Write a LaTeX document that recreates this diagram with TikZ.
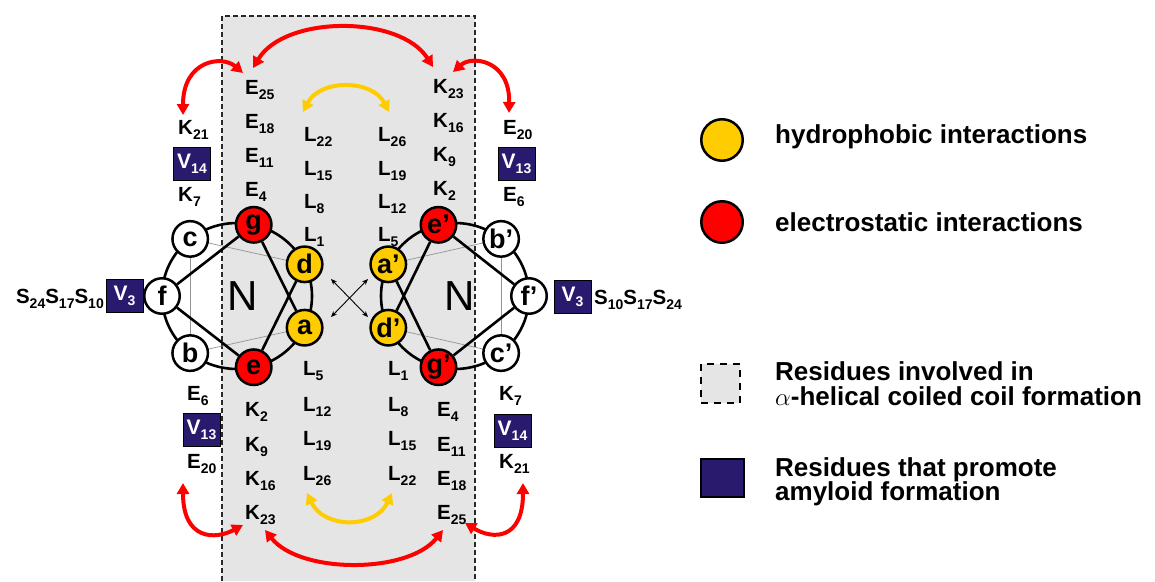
\documentclass[tikz,border=0pt]{standalone}
\usepackage{fontspec}
\setmainfont{Liberation Sans}
\usetikzlibrary{arrows.meta}
\definecolor{ycol}{RGB}{255,204,0}
\definecolor{rcol}{RGB}{255,0,0}
\definecolor{navy}{RGB}{42,26,110}
\definecolor{bgg}{RGB}{229,229,229}
\definecolor{dashcol}{RGB}{40,40,40}
\newcommand\rsub[1]{\raisebox{-5pt}{\fontsize{14}{14}\selectfont #1}}
\pgfdeclarelayer{bg}
\pgfdeclarelayer{mid}
\pgfsetlayers{bg,mid,main}
\tikzset{
  res/.style={circle, draw=black, line width=2.5pt, minimum size=35.5pt, inner sep=0pt, font=\fontsize{27}{27}\selectfont\bfseries},
  hyd/.style={res, fill=ycol},
  ele/.style={res, fill=rcol},
  neu/.style={res, fill=white},
  lab/.style={inner sep=0pt, anchor=base west, font=\fontsize{20.5}{20.5}\selectfont\bfseries},
  vbox/.style={draw=black, line width=1pt, fill=navy, text=white, minimum width=37pt, minimum height=33pt, inner sep=0pt, font=\fontsize{21}{21}\selectfont\bfseries},
  ringline/.style={line width=2.6pt},
  link/.style={line width=2.6pt},
  faint/.style={draw=gray!85, line width=0.7pt},
  redarc/.style={draw=rcol, line width=4pt, {Triangle[length=11pt,width=12pt]}-{Triangle[length=11pt,width=12pt]}},
  yelarc/.style={draw=ycol, line width=4pt, {Triangle[length=11pt,width=12pt]}-{Triangle[length=11pt,width=12pt]}},
  crossarr/.style={line width=0.9pt, {Stealth[length=6pt,width=5pt]}-{Stealth[length=6pt,width=5pt]}},
  leg/.style={inner sep=0pt, anchor=base west, font=\fontsize{26}{26}\selectfont\bfseries},
  bignl/.style={inner sep=0pt, font=\fontsize{42}{42}\selectfont}
}
\begin{document}
\begin{tikzpicture}[x=1pt,y=-1pt]
\useasboundingbox (0,0) rectangle (1155,581);
% shaded region
\begin{pgfonlayer}{bg}
\fill[bgg] (222,16) rectangle (475,581);
\draw[draw=dashcol, line width=1.3pt, dash pattern=on 5pt off 3pt] (222,581) -- (222,16) -- (475,16) -- (475,581);
\end{pgfonlayer}

% left helical wheel
\node[neu] (f) at (162,296) {f};
\node[neu] (c) at (190.2,238.9) {c};
\node[ele] (g) at (253.7,224.8) {g};
\node[hyd] (d) at (304.6,264.3) {d};
\node[hyd] (a) at (304.6,327.7) {a};
\node[ele] (e) at (253.7,367.2) {e};
\node[neu] (b) at (190.2,353.1) {b};
\node[bignl] (N1) at (243,296) {N};

% right helical wheel
\node[neu] (fp) at (529,296) {f’};
\node[neu] (bp) at (501.1,238.9) {b’};
\node[ele] (ep) at (438.5,224.8) {e’};
\node[hyd] (ap) at (388.3,264.3) {a’};
\node[hyd] (dp) at (388.3,327.7) {d’};
\node[ele] (gp) at (438.5,367.2) {g’};
\node[neu] (cp) at (501.1,353.1) {c’};
\node[bignl] (N2) at (460,296) {N};

\begin{pgfonlayer}{mid}
\draw[ringline] (237,296) ellipse [x radius=75pt, y radius=73pt];
\draw[ringline] (455,296) ellipse [x radius=74pt, y radius=73pt];
\draw[faint] (c) -- (d);
\draw[faint] (b) -- (a);
\draw[faint] (c) -- (b);
\draw[link] (f) -- (g);
\draw[link] (f) -- (e);
\draw[link] (g) -- (a);
\draw[link] (d) -- (e);
\draw[faint] (bp) -- (ap);
\draw[faint] (cp) -- (dp);
\draw[faint] (bp) -- (cp);
\draw[link] (fp) -- (ep);
\draw[link] (fp) -- (gp);
\draw[link] (ep) -- (dp);
\draw[link] (ap) -- (gp);
\end{pgfonlayer}

% crossing arrows
\coordinate (x1) at (331,279);
\coordinate (x2) at (368,317);
\coordinate (x3) at (331,317);
\coordinate (x4) at (368,279);
\draw[crossarr] (x1) -- (x2);
\draw[crossarr] (x3) -- (x4);

% top inner columns
\node[lab] (tE25) at (245,94) {E\rsub{25}};
\node[lab] (tE18) at (245,128) {E\rsub{18}};
\node[lab] (tE11) at (245,162) {E\rsub{11}};
\node[lab] (tE4) at (245,196) {E\rsub{4}};
\node[lab] (tL22) at (304,141) {L\rsub{22}};
\node[lab] (tL15) at (304,175) {L\rsub{15}};
\node[lab] (tL8) at (304,208) {L\rsub{8}};
\node[lab] (tL1) at (304,241) {L\rsub{1}};
\node[lab] (tL26) at (378,141) {L\rsub{26}};
\node[lab] (tL19) at (378,175) {L\rsub{19}};
\node[lab] (tL12) at (378,208) {L\rsub{12}};
\node[lab] (tL5) at (378,241) {L\rsub{5}};
\node[lab] (tK23) at (433,93) {K\rsub{23}};
\node[lab] (tK16) at (433,127) {K\rsub{16}};
\node[lab] (tK9) at (433,161) {K\rsub{9}};
\node[lab] (tK2) at (433,195) {K\rsub{2}};

% bottom inner columns
\node[lab] (bK2) at (245,416) {K\rsub{2}};
\node[lab] (bK9) at (245,451) {K\rsub{9}};
\node[lab] (bK16) at (245,485) {K\rsub{16}};
\node[lab] (bK23) at (245,519) {K\rsub{23}};
\node[lab] (bL5) at (303,375) {L\rsub{5}};
\node[lab] (bL12) at (303,411) {L\rsub{12}};
\node[lab] (bL19) at (303,445) {L\rsub{19}};
\node[lab] (bL26) at (303,480) {L\rsub{26}};
\node[lab] (bL1) at (388,375) {L\rsub{1}};
\node[lab] (bL8) at (388,411) {L\rsub{8}};
\node[lab] (bL15) at (388,445) {L\rsub{15}};
\node[lab] (bL22) at (388,480) {L\rsub{22}};
\node[lab] (bE4) at (437,416) {E\rsub{4}};
\node[lab] (bE11) at (437,451) {E\rsub{11}};
\node[lab] (bE18) at (437,485) {E\rsub{18}};
\node[lab] (bE25) at (437,519) {E\rsub{25}};

% outer columns
\node[lab] (oK21) at (178,134) {K\rsub{21}};
\node[vbox] (oV14) at (192,164) {V\rsub{14}};
\node[lab] (oK7) at (178,201) {K\rsub{7}};
\node[lab] (oE6) at (187,400) {E\rsub{6}};
\node[vbox] (oV13) at (201.5,430) {V\rsub{13}};
\node[lab] (oE20) at (187,468) {E\rsub{20}};
\node[lab] (pE20) at (503,134) {E\rsub{20}};
\node[vbox] (pV13) at (516.5,164) {V\rsub{13}};
\node[lab] (pE6) at (503,201) {E\rsub{6}};
\node[lab] (pK7) at (499,400) {K\rsub{7}};
\node[vbox] (pV14) at (512.5,431) {V\rsub{14}};
\node[lab] (pK21) at (499,468) {K\rsub{21}};

% side rows
\node[vbox] (lV3) at (124.5,296) {V\rsub{3}};
\node[lab, anchor=base east] (lS) at (104,303) {S\rsub{24}S\rsub{17}S\rsub{10}};
\node[vbox] (rV3) at (572.5,297) {V\rsub{3}};
\node[lab] (rS) at (594,304) {S\rsub{10}S\rsub{17}S\rsub{24}};

% interaction arcs
\coordinate (ta1) at (253,68);
\coordinate (ta2) at (433,67);
\coordinate (ty1) at (303,112);
\coordinate (ty2) at (389,112);
\coordinate (tl1) at (183,115);
\coordinate (tl2) at (243,73);
\coordinate (tr1) at (453,72);
\coordinate (tr2) at (509,113);
\coordinate (by1) at (307,493);
\coordinate (by2) at (392,493);
\coordinate (ba1) at (265,530);
\coordinate (ba2) at (443,530);
\coordinate (bl1) at (183,483);
\coordinate (bl2) at (243,525);
\coordinate (br1) at (465,523);
\coordinate (br2) at (523,483);
\draw[redarc] (ta1) .. controls (285,15) and (400,15) .. (ta2);
\draw[yelarc] (ty1) .. controls (320,79) and (372,79) .. (ty2);
\draw[redarc] (tl1) .. controls (183,60) and (222,55) .. (tl2);
\draw[redarc] (tr1) .. controls (472,55) and (510,60) .. (tr2);
\draw[yelarc] (by1) .. controls (324,529) and (375,529) .. (by2);
\draw[redarc] (ba1) .. controls (300,574) and (408,574) .. (ba2);
\draw[redarc] (bl1) .. controls (183,540) and (215,540) .. (bl2);
\draw[redarc] (br1) .. controls (493,540) and (523,540) .. (br2);

% legend
\node[circle, draw=black, line width=2.5pt, fill=ycol, minimum size=41.5pt, inner sep=0pt] (lgY) at (722,140) {};
\node[leg] (lgYt) at (775,143) {hydrophobic interactions};
\node[circle, draw=black, line width=2.5pt, fill=rcol, minimum size=41.5pt, inner sep=0pt] (lgR) at (722,222) {};
\node[leg] (lgRt) at (775,231) {electrostatic interactions};
\node[draw=black, fill=bgg, line width=2pt, dash pattern=on 7pt off 6pt, minimum width=39pt, minimum height=39pt, inner sep=0pt] (lgD) at (720.5,383) {};
\node[leg] (lgDt1) at (775,380) {Residues involved in};
\node[leg] (lgDt2) at (775,405) {$\alpha$-helical coiled coil formation};
\node[draw=black, fill=navy, line width=2pt, minimum width=43pt, minimum height=38pt, inner sep=0pt] (lgV) at (722.5,478) {};
\node[leg] (lgVt1) at (775,476) {Residues that promote};
\node[leg] (lgVt2) at (775,500) {amyloid formation};
\end{tikzpicture}
\end{document}
